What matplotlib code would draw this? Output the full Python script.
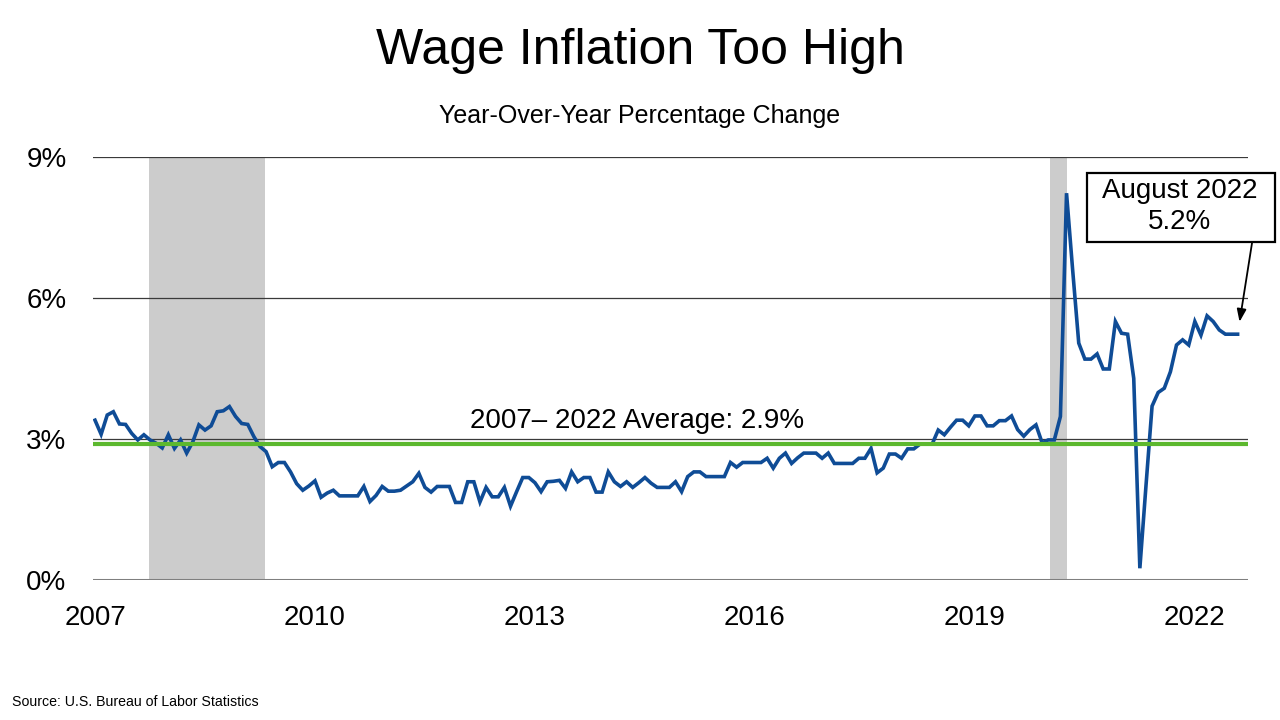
import numpy as np
import matplotlib
matplotlib.use("Agg")
import matplotlib.pyplot as plt
from matplotlib.patches import Rectangle

plt.rcParams['font.family'] = ['Liberation Sans', 'DejaVu Sans']

# monthly year-over-year wage growth (%), Jan 2007 .. Aug 2022
wage_growth = [
    3.40, 3.10, 3.51, 3.58, 3.32, 3.31, 3.12, 2.98, 3.09, 2.98, 2.91, 2.81,
    3.09, 2.80, 2.98, 2.70, 2.94, 3.30, 3.19, 3.28, 3.58, 3.60, 3.69, 3.48,
    3.33, 3.31, 3.05, 2.84, 2.73, 2.41, 2.50, 2.50, 2.30, 2.05, 1.91, 2.00,
    2.11, 1.76, 1.85, 1.91, 1.79, 1.79, 1.79, 1.79, 1.99, 1.67, 1.80, 1.99,
    1.89, 1.89, 1.91, 2.00, 2.09, 2.27, 1.97, 1.87, 1.99, 1.99, 1.99, 1.65,
    1.65, 2.09, 2.09, 1.66, 1.97, 1.77, 1.77, 1.97, 1.57, 1.88, 2.18, 2.18,
    2.07, 1.88, 2.09, 2.10, 2.12, 1.95, 2.30, 2.09, 2.18, 2.18, 1.87, 1.87,
    2.30, 2.09, 1.99, 2.09, 1.97, 2.07, 2.18, 2.06, 1.97, 1.97, 1.97, 2.09,
    1.88, 2.20, 2.30, 2.30, 2.20, 2.20, 2.20, 2.20, 2.50, 2.40, 2.50, 2.50,
    2.50, 2.50, 2.59, 2.38, 2.59, 2.70, 2.48, 2.60, 2.70, 2.70, 2.70, 2.59,
    2.70, 2.48, 2.48, 2.48, 2.48, 2.59, 2.59, 2.80, 2.28, 2.38, 2.68, 2.68,
    2.59, 2.79, 2.79, 2.89, 2.89, 2.89, 3.19, 3.09, 3.25, 3.40, 3.40, 3.28,
    3.49, 3.49, 3.28, 3.28, 3.39, 3.39, 3.49, 3.20, 3.06, 3.20, 3.30, 2.92,
    2.98, 2.98, 3.48, 8.23, 6.60, 5.04, 4.70, 4.70, 4.81, 4.49, 4.49, 5.50,
    5.25, 5.23, 4.29, 0.25, 2.00, 3.70, 3.99, 4.08, 4.43, 5.00, 5.11, 5.00,
    5.50, 5.21, 5.62, 5.50, 5.32, 5.23, 5.23, 5.23,
]
average = 2.9
tick_years = [2007, 2010, 2013, 2016, 2019, 2022]
# recessions, in months since Jan 2007
recession_start = [8.8, 156.3]
recession_end = [27.8, 159.1]

months = np.arange(len(wage_growth))

fig = plt.figure(figsize=(12.8, 7.2), dpi=100)
ax = fig.add_axes([93 / 1280, 1 - 580 / 720, 1155 / 1280, 423 / 720])

for s, e in zip(recession_start, recession_end):
    ax.axvspan(s, e, color='#cccccc', lw=0, zorder=0)

for v in [3, 6, 9]:
    ax.axhline(v, color='#3a3a3a', lw=0.9, zorder=1)
ax.axhline(0, color='#7f7f7f', lw=2.2, zorder=1)

ax.plot(months, wage_growth, color='#0f4c96', lw=2.6, zorder=3,
        solid_joinstyle='miter')
ax.axhline(average, color='#5cb82e', lw=3.0, zorder=4)

ax.set_xlim(-0.33, 188.7)
ax.set_ylim(0, 9)
ax.set_yticks([0, 3, 6, 9])
ax.set_yticklabels(['0%', '3%', '6%', '9%'])
ax.set_xticks([(y - 2007) * 12 for y in tick_years])
ax.set_xticklabels([str(y) for y in tick_years])
ax.tick_params(axis='y', length=0, pad=19, labelsize=20)
ax.tick_params(axis='x', length=0, pad=18, labelsize=20)
for sp in ax.spines.values():
    sp.set_visible(False)

ax.text(0.471, 0.359, '2007\u2013 2022 Average: 2.9%', transform=ax.transAxes,
        ha='center', va='baseline', fontsize=20)

# callout box for the latest reading
ax.add_patch(Rectangle((0.8606, 0.799), 0.1628, 0.163, transform=ax.transAxes,
                       fc='white', ec='black', lw=1.6, clip_on=False, zorder=5))
ax.text(0.941, 0.882, 'August 2022\n5.2%', transform=ax.transAxes,
        ha='center', va='center', fontsize=20, linespacing=1.25, zorder=6)
ax.annotate('', xy=(months[-1], wage_growth[-1]),
            xytext=(1.0035, 0.797), textcoords='axes fraction',
            arrowprops=dict(arrowstyle='-|>,head_length=0.75,head_width=0.28',
                            color='black', lw=1.3, shrinkA=0, shrinkB=9),
            annotation_clip=False, zorder=6)

fig.text(0.5, 1 - 64 / 720, 'Wage Inflation Too High', ha='center',
         va='baseline', fontsize=36)
fig.text(0.5, 1 - 123 / 720, 'Year-Over-Year Percentage Change', ha='center',
         va='baseline', fontsize=18)
fig.text(12 / 1280, 1 - 706 / 720, 'Source: U.S. Bureau of Labor Statistics',
         ha='left', va='baseline', fontsize=10.2)

fig.savefig('out.png', dpi=100)
